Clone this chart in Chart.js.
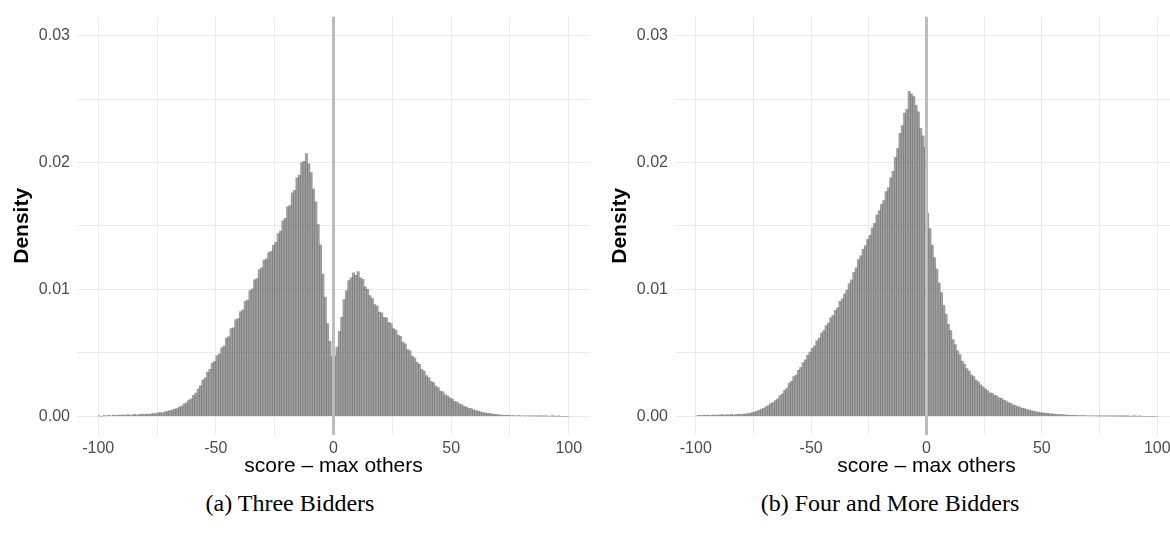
<!DOCTYPE html>
<html>
<head>
<meta charset="utf-8">
<script src="https://cdn.jsdelivr.net/npm/chart.js@4.4.1/dist/chart.umd.min.js"></script>
<style>
  html, body { margin: 0; padding: 0; background: #fff; width: 1170px; height: 537px; overflow: hidden; }
  .panel { position: absolute; top: 0; height: 485px; }
  #left { left: 0; width: 590px; }
  #right { left: 598px; width: 580px; }
  .caption { position: absolute; top: 490px; font-family: "Liberation Serif", "Times New Roman", serif; font-size: 24px; color: #000; white-space: nowrap; transform: translateX(-50%); }
</style>
</head>
<body>
<div class="panel" id="left"><canvas id="chartThree"></canvas></div>
<div class="panel" id="right"><canvas id="chartFour"></canvas></div>
<div class="caption" style="left:290px">(a) Three Bidders</div>
<div class="caption" style="left:890px">(b) Four and More Bidders</div>
<script>
// histogram bins: width 1, from -100 to 100
const binStart = -100;
const binWidth = 1;

// density per bin, three bidders
const threeBidders = [
    0.00003, 0.00000, 0.00005, 0.00002, 0.00007, 0.00004, 0.00009, 0.00005, 0.00010, 0.00007,
    0.00011, 0.00007, 0.00012, 0.00009, 0.00010, 0.00014, 0.00009, 0.00013, 0.00016, 0.00012,
    0.00017, 0.00015, 0.00019, 0.00021, 0.00020, 0.00027, 0.00029, 0.00027, 0.00035, 0.00038,
    0.00044, 0.00049, 0.00056, 0.00060, 0.00072, 0.00079, 0.00097, 0.00106, 0.00128, 0.00137,
    0.00165, 0.00182, 0.00215, 0.00241, 0.00284, 0.00302, 0.00347, 0.00370, 0.00418, 0.00432,
    0.00478, 0.00491, 0.00540, 0.00552, 0.00615, 0.00628, 0.00690, 0.00697, 0.00762, 0.00770,
    0.00825, 0.00838, 0.00905, 0.00915, 0.00990, 0.01005, 0.01075, 0.01085, 0.01155, 0.01170,
    0.01230, 0.01240, 0.01290, 0.01300, 0.01350, 0.01370, 0.01440, 0.01460, 0.01540, 0.01560,
    0.01650, 0.01660, 0.01760, 0.01780, 0.01880, 0.01900, 0.02000, 0.02010, 0.02070, 0.01990,
    0.01920, 0.01790, 0.01690, 0.01510, 0.01350, 0.01120, 0.00940, 0.00730, 0.00590, 0.00470,
    0.00475, 0.00545, 0.00670, 0.00780, 0.00920, 0.00990, 0.01070, 0.01090, 0.01130, 0.01110,
    0.01140, 0.01090, 0.01080, 0.01020, 0.01000, 0.00950, 0.00930, 0.00880, 0.00870, 0.00820,
    0.00815, 0.00780, 0.00775, 0.00740, 0.00730, 0.00690, 0.00680, 0.00640, 0.00630, 0.00585,
    0.00570, 0.00525, 0.00515, 0.00475, 0.00460, 0.00425, 0.00410, 0.00370, 0.00355, 0.00320,
    0.00305, 0.00275, 0.00265, 0.00238, 0.00225, 0.00198, 0.00192, 0.00168, 0.00160, 0.00145,
    0.00135, 0.00118, 0.00112, 0.00098, 0.00092, 0.00078, 0.00072, 0.00062, 0.00060, 0.00050,
    0.00044, 0.00040, 0.00035, 0.00029, 0.00027, 0.00022, 0.00020, 0.00017, 0.00015, 0.00013,
    0.00011, 0.00010, 0.00008, 0.00008, 0.00007, 0.00005, 0.00006, 0.00004, 0.00005, 0.00003,
    0.00004, 0.00002, 0.00004, 0.00002, 0.00003, 0.00002, 0.00003, 0.00001, 0.00002, 0.00001,
    0.00002, 0.00000, 0.00002, 0.00001, 0.00000, 0.00001, 0.00000, 0.00000, 0.00000, 0.00000
];

// density per bin, four and more bidders
const fourPlusBidders = [
    0.00004, 0.00008, 0.00005, 0.00010, 0.00007, 0.00010, 0.00006, 0.00011, 0.00008, 0.00010,
    0.00009, 0.00012, 0.00008, 0.00012, 0.00010, 0.00014, 0.00010, 0.00012, 0.00015, 0.00013,
    0.00017, 0.00017, 0.00021, 0.00023, 0.00029, 0.00033, 0.00041, 0.00046, 0.00057, 0.00063,
    0.00076, 0.00083, 0.00099, 0.00108, 0.00124, 0.00137, 0.00162, 0.00176, 0.00205, 0.00222,
    0.00262, 0.00275, 0.00312, 0.00325, 0.00362, 0.00385, 0.00422, 0.00445, 0.00482, 0.00505,
    0.00535, 0.00555, 0.00595, 0.00615, 0.00655, 0.00675, 0.00715, 0.00735, 0.00775, 0.00795,
    0.00835, 0.00855, 0.00905, 0.00925, 0.00965, 0.00995, 0.01045, 0.01075, 0.01135, 0.01170,
    0.01235, 0.01265, 0.01315, 0.01345, 0.01395, 0.01425, 0.01485, 0.01520, 0.01585, 0.01620,
    0.01670, 0.01700, 0.01770, 0.01800, 0.01880, 0.01930, 0.02040, 0.02110, 0.02230, 0.02290,
    0.02390, 0.02420, 0.02560, 0.02540, 0.02520, 0.02450, 0.02400, 0.02270, 0.02210, 0.02120,
    0.01600, 0.01480, 0.01350, 0.01250, 0.01160, 0.01050, 0.00975, 0.00875, 0.00805, 0.00725,
    0.00675, 0.00605, 0.00565, 0.00515, 0.00485, 0.00435, 0.00412, 0.00375, 0.00355, 0.00325,
    0.00312, 0.00285, 0.00272, 0.00248, 0.00232, 0.00215, 0.00202, 0.00185, 0.00180, 0.00165,
    0.00160, 0.00145, 0.00142, 0.00128, 0.00122, 0.00108, 0.00102, 0.00090, 0.00084, 0.00076,
    0.00072, 0.00062, 0.00060, 0.00052, 0.00050, 0.00042, 0.00040, 0.00034, 0.00032, 0.00028,
    0.00027, 0.00023, 0.00022, 0.00019, 0.00018, 0.00015, 0.00015, 0.00013, 0.00013, 0.00011,
    0.00010, 0.00009, 0.00008, 0.00007, 0.00007, 0.00006, 0.00006, 0.00005, 0.00005, 0.00004,
    0.00004, 0.00003, 0.00004, 0.00003, 0.00003, 0.00002, 0.00003, 0.00002, 0.00002, 0.00002,
    0.00002, 0.00001, 0.00002, 0.00001, 0.00001, 0.00001, 0.00001, 0.00001, 0.00000, 0.00001,
    0.00001, 0.00000, 0.00001, 0.00000, 0.00000, 0.00000, 0.00000, 0.00000, 0.00000, 0.00000
];

// ticks / gridlines
const xGridTicks = [-100, -75, -50, -25, 0, 25, 50, 75, 100];
const xTickLabels = [-100, -50, 0, 50, 100];
const yGridTicks = [0, 0.005, 0.01, 0.015, 0.02, 0.025, 0.03];
const yTickLabels = [0, 0.01, 0.02, 0.03];
const xRange = [-109, 109];
const yRange = [-0.00148, 0.0315];
const zeroLineX = 0;

function toPoints(values) {
    return values.map((v, i) => ({ x: binStart + binWidth * (i + 0.5), y: v }));
}

function makeChart(canvasId, values) {
    const ctx = document.getElementById(canvasId).getContext('2d');
    return new Chart(ctx, {
        type: 'bar',
        data: {
            datasets: [
                {
                    type: 'line',
                    data: [{ x: zeroLineX, y: yRange[0] }, { x: zeroLineX, y: yRange[1] }],
                    borderColor: '#bdbdbd',
                    borderWidth: 3,
                    pointRadius: 0,
                    order: 0
                },
                {
                    data: toPoints(values),
                    backgroundColor: 'rgba(80, 80, 80, 0.55)',
                    borderWidth: 0,
                    barPercentage: 1,
                    categoryPercentage: 1,
                    order: 1
                }
            ]
        },
        options: {
            responsive: true,
            maintainAspectRatio: false,
            animation: false,
            layout: { padding: { top: 13, right: 0, left: 0, bottom: 0 } },
            plugins: { legend: { display: false }, tooltip: { enabled: false } },
            scales: {
                x: {
                    type: 'linear',
                    offset: false,
                    min: xRange[0],
                    max: xRange[1],
                    afterBuildTicks: s => { s.ticks = xGridTicks.map(v => ({ value: v })); },
                    afterFit: s => { s.height = 50; },
                    border: { display: false },
                    grid: { color: '#ebebeb', lineWidth: 1, drawTicks: false, offset: false },
                    ticks: {
                        padding: 4,
                        color: '#4d4d4d',
                        font: { family: 'Liberation Sans, Arial', size: 16 },
                        maxRotation: 0,
                        autoSkip: false,
                        callback: v => xTickLabels.includes(v) ? String(v) : ''
                    },
                    title: {
                        display: true,
                        text: 'score – max others',
                        color: '#000',
                        padding: { top: 0, bottom: 6 },
                        font: { family: 'Liberation Sans, Arial', size: 21 }
                    }
                },
                y: {
                    min: yRange[0],
                    max: yRange[1],
                    afterBuildTicks: s => { s.ticks = yGridTicks.map(v => ({ value: v })); },
                    afterFit: s => { s.width = 77; },
                    border: { display: false },
                    grid: { color: '#ebebeb', lineWidth: 1, drawTicks: false },
                    ticks: {
                        padding: 7,
                        color: '#4d4d4d',
                        font: { family: 'Liberation Sans, Arial', size: 16 },
                        autoSkip: false,
                        callback: v => yTickLabels.some(t => Math.abs(t - v) < 1e-9) ? v.toFixed(2) : ''
                    },
                    title: {
                        display: true,
                        text: 'Density',
                        color: '#000',
                        padding: { top: 10, bottom: 0 },
                        font: { family: 'Liberation Sans, Arial', size: 21, weight: 'bold' }
                    }
                }
            }
        }
    });
}

makeChart('chartThree', threeBidders);
makeChart('chartFour', fourPlusBidders);
</script>
</body>
</html>
